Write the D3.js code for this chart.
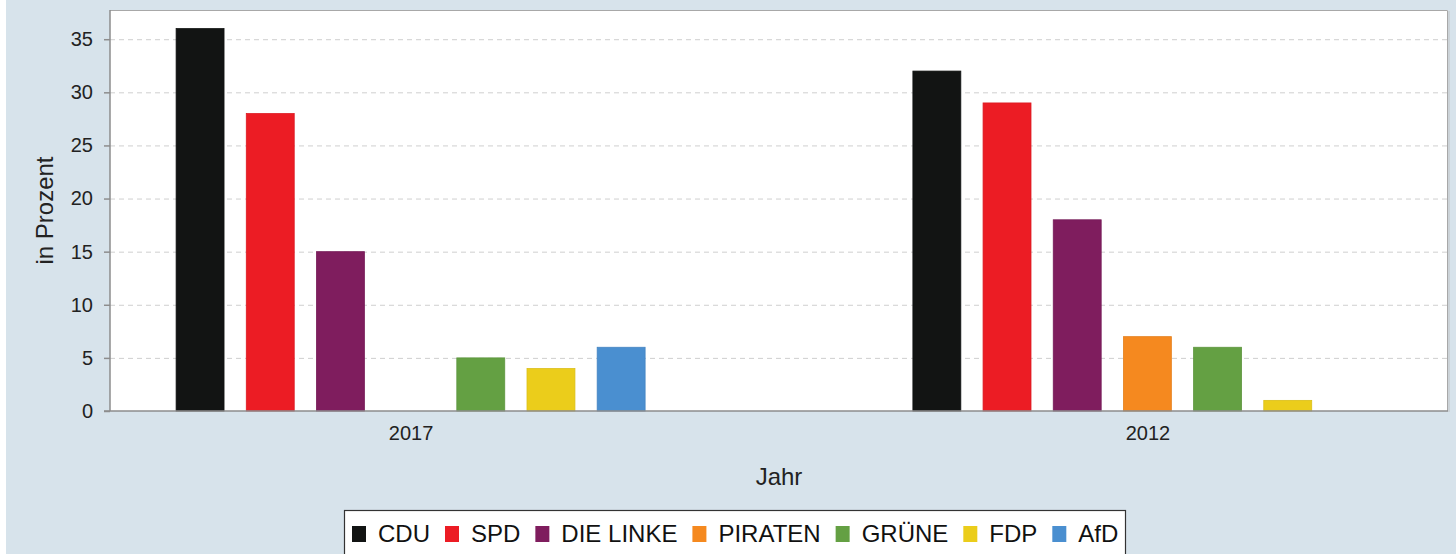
<!DOCTYPE html>
<html>
<head>
<meta charset="utf-8">
<script src="https://cdn.jsdelivr.net/npm/d3@7/dist/d3.min.js"></script>
<style>
  html, body { margin: 0; padding: 0; background: #fff; }
  svg { display: block; font-family: "Liberation Sans", Arial, sans-serif; }
</style>
</head>
<body>
<svg id="chart" width="1456" height="554"></svg>
<script>
// Daten: Wahlergebnisse in Prozent
const years = ['2017', '2012'];
const parties = ['CDU', 'SPD', 'DIE LINKE', 'PIRATEN', 'GRÜNE', 'FDP', 'AfD'];
const partyColors = ['#121413', '#ec1c24', '#7f1d5e', '#f5891f', '#64a043', '#ebcd1b', '#4a8fd0'];
const values2017 = [36, 28, 15, null, 5, 4, 6];
const values2012 = [32, 29, 18, 7, 6, 1, null];
const yTicks = [0, 5, 10, 15, 20, 25, 30, 35];

const seriesByYear = { '2017': values2017, '2012': values2012 };

const svg = d3.select('#chart');
const W = 1456, H = 554;
const plot = { left: 110, top: 10, right: 1448, bottom: 411 };
const FONT = '"Liberation Sans", Arial, sans-serif';

// Hintergrund
svg.append('rect').attr('x', 6).attr('y', 0).attr('width', W - 6).attr('height', H).attr('fill', '#d7e3eb');
svg.append('rect')
  .attr('x', plot.left).attr('y', plot.top)
  .attr('width', plot.right - plot.left).attr('height', plot.bottom - plot.top)
  .attr('fill', '#fff');

const x0 = d3.scalePoint().domain(years).range([plot.left, plot.right]).padding(0.408);
const x1 = d3.scaleBand().domain(parties).range([-234.5, 234.5]).paddingInner(0.317).paddingOuter(0);
const y = d3.scaleLinear().domain([0, 37.75]).range([plot.bottom, plot.top]);

// Gitterlinien
svg.append('g')
  .selectAll('line')
  .data(yTicks.filter(t => t > 0))
  .join('line')
  .attr('x1', plot.left).attr('x2', plot.right)
  .attr('y1', d => y(d) + 0.5).attr('y2', d => y(d) + 0.5)
  .attr('stroke', '#cfcfcf')
  .attr('stroke-dasharray', '5,4');

// Balken
const groups = svg.append('g')
  .selectAll('g')
  .data(years)
  .join('g')
  .attr('transform', d => `translate(${x0(d)},0)`);

groups.selectAll('rect')
  .data(yr => parties.map((p, i) => ({ party: p, value: seriesByYear[yr][i], color: partyColors[i] }))
    .filter(d => d.value !== null))
  .join('rect')
  .attr('x', d => x1(d.party))
  .attr('width', x1.bandwidth())
  .attr('y', d => y(d.value))
  .attr('height', d => y(0) - y(d.value))
  .attr('fill', d => d.color)
  .attr('stroke', d => d3.color(d.color).darker(0.2))
  .attr('stroke-width', 0.8);

// Rahmen
svg.append('path')
  .attr('d', `M${plot.left},${plot.top + 0.5}H${plot.right - 0.5}V${plot.bottom}`)
  .attr('fill', 'none').attr('stroke', '#a8a8a8').attr('stroke-width', 1);
svg.append('path')
  .attr('d', `M${plot.right + 1},${plot.top + 1}V${plot.bottom + 1}`)
  .attr('fill', 'none').attr('stroke', '#c9ced2').attr('stroke-width', 1.5);

// Y-Achse
const yAxis = svg.append('g')
  .attr('transform', `translate(${plot.left},0)`)
  .call(d3.axisLeft(y).tickValues(yTicks).tickSize(6).tickPadding(11).tickFormat(d3.format('d')));
yAxis.select('.domain').attr('stroke', '#8d8d8d').attr('stroke-width', 1.5)
  .attr('d', `M0,${plot.top}V${plot.bottom}`);
yAxis.selectAll('.tick line').attr('stroke', '#8d8d8d').attr('stroke-width', 1.5);
yAxis.selectAll('.tick text').attr('font-size', 20).attr('fill', '#222').attr('font-family', FONT);

// X-Achse
const xAxis = svg.append('g')
  .attr('transform', `translate(0,${plot.bottom})`)
  .call(d3.axisBottom(x0).tickSize(0).tickPadding(15));
xAxis.select('.domain').attr('stroke', '#8d8d8d').attr('stroke-width', 1.5)
  .attr('d', `M${plot.left - 6},0H${plot.right}`);
xAxis.selectAll('.tick text').attr('font-size', 20).attr('fill', '#222').attr('font-family', FONT);

// Achsentitel
svg.append('text')
  .attr('transform', `translate(53,${(plot.top + plot.bottom) / 2}) rotate(-90)`)
  .attr('text-anchor', 'middle')
  .attr('font-size', 24).attr('fill', '#222')
  .text('in Prozent');
svg.append('text')
  .attr('x', 779).attr('y', 485)
  .attr('text-anchor', 'middle')
  .attr('font-size', 24).attr('fill', '#222')
  .text('Jahr');

// Legende
const legend = svg.append('g');
legend.append('rect')
  .attr('x', 344.5).attr('y', 510.5).attr('width', 781).attr('height', 50)
  .attr('fill', '#fff').attr('stroke', '#333').attr('stroke-width', 1.2);

let lx = 352;
parties.forEach((p, i) => {
  const item = legend.append('g').attr('transform', `translate(${lx},0)`);
  item.append('rect')
    .attr('x', 0).attr('y', 526).attr('width', 14).attr('height', 16)
    .attr('fill', partyColors[i]);
  const t = item.append('text')
    .attr('x', 26).attr('y', 542)
    .attr('font-size', 24).attr('fill', '#111')
    .text(p);
  const tw = t.node().getComputedTextLength();
  lx += 26 + tw + 15;
});
</script>
</body>
</html>
